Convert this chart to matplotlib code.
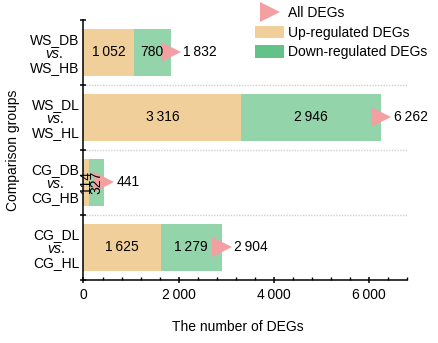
import matplotlib.pyplot as plt
from matplotlib.lines import Line2D
from matplotlib.patches import Patch
from matplotlib.ticker import FuncFormatter, MultipleLocator

plt.rcParams['font.family'] = ['Liberation Sans', 'DejaVu Sans']
plt.rcParams['mathtext.fontset'] = 'custom'
plt.rcParams['mathtext.it'] = 'Liberation Sans:italic'
plt.rcParams['mathtext.rm'] = 'Liberation Sans'

groups = ['WS_DB\n$\\it{vs.}$\nWS_HB',
          'WS_DL\n$\\it{vs.}$\nWS_HL',
          'CG_DB\n$\\it{vs.}$\nCG_HB',
          'CG_DL\n$\\it{vs.}$\nCG_HL']
up = [1052, 3316, 114, 1625]
down = [780, 2946, 327, 1279]
total = [1832, 6262, 441, 2904]

c_up = '#F0CF9A'
c_down = '#63C288'
c_down_bar = '#93D4AA'
c_all = '#F4A0A2'


def thin(v):
    s = f'{int(v):,}'
    return s.replace(',', '\u2009')


fig = plt.figure(figsize=(4.38, 3.43), dpi=100)
ax = fig.add_axes([0.1906, 0.1837, 0.929 - 0.1906, 0.9417 - 0.1837])

y = list(range(len(groups)))
h = 0.72
ax.barh(y, up, height=h, color=c_up, zorder=2)
ax.barh(y, down, left=up, height=h, color=c_down_bar, zorder=2)
ax.plot(total, y, linestyle='none', marker='>', markersize=14,
        color=c_all, markeredgewidth=0, zorder=3)

for i in y:
    rot = 90 if total[i] < 1000 else 0
    ax.text(up[i] / 2, i, thin(up[i]), ha='center', va='center',
            fontsize=10, rotation=rot, zorder=4)
    ax.text(up[i] + down[i] / 2, i, thin(down[i]), ha='center', va='center',
            fontsize=10, rotation=rot, zorder=4)
    ax.annotate(thin(total[i]), xy=(total[i], i), xytext=(9, 0),
                textcoords='offset points', ha='left', va='center',
                fontsize=10, zorder=4)

# dotted separators between comparison groups
for s in [0.5, 1.5, 2.5]:
    ax.axhline(s, color='#d0d0d0', linestyle=(0, (1, 1)), lw=1, zorder=1)

ax.set_xlim(0, 6800)
ax.set_ylim(3.5, -0.5)

ax.set_yticks(y)
ax.set_yticklabels(groups, fontsize=10, linespacing=1.0)
for lab in ax.get_yticklabels():
    lab.set_multialignment('center')
ax.set_yticks([-0.5, 0.5, 1.5, 2.5, 3.5], minor=True)
ax.tick_params(axis='y', which='major', length=0, pad=3)
ax.tick_params(axis='y', which='minor', direction='inout', length=4, width=1.1)

ax.xaxis.set_major_locator(MultipleLocator(2000))
ax.xaxis.set_minor_locator(MultipleLocator(400))
ax.xaxis.set_major_formatter(FuncFormatter(lambda v, p: thin(v)))
ax.tick_params(axis='x', which='major', direction='inout', length=5,
               width=1.1, labelsize=10, pad=3)
ax.tick_params(axis='x', which='minor', direction='in', length=2.5, width=1)

for sp in ['top', 'right']:
    ax.spines[sp].set_visible(False)
for sp in ['left', 'bottom']:
    ax.spines[sp].set_linewidth(1.1)

ax.set_xlabel('The number of DEGs', fontsize=10, labelpad=10)
ax.xaxis.set_label_coords(0.478, -0.155)
ax.set_ylabel('Comparison groups', fontsize=10, labelpad=7)

handles = [Line2D([], [], linestyle='none', marker='>', markersize=14,
                  color=c_all, markeredgewidth=0),
           Patch(facecolor=c_up), Patch(facecolor=c_down)]
fig.legend(handles, ['All DEGs', 'Up-regulated DEGs', 'Down-regulated DEGs'],
           loc='upper left', bbox_to_anchor=(255 / 438, 1 - 6 / 343),
           frameon=False, fontsize=10, borderpad=0, borderaxespad=0,
           handlelength=2.1, handleheight=1.0, handletextpad=0.25,
           labelspacing=0.4)

fig.savefig('out.png', dpi=100)
